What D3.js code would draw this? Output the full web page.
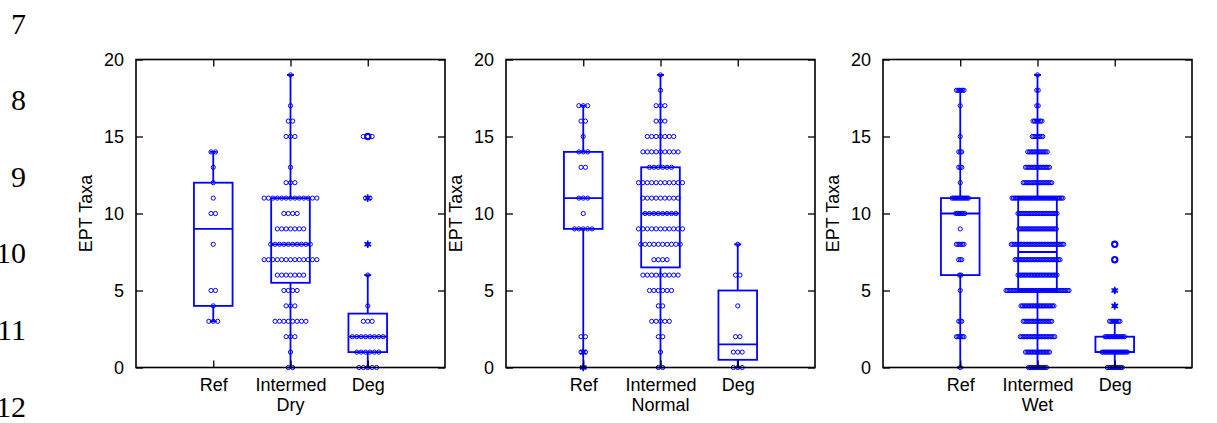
<!DOCTYPE html>
<html>
<head>
<meta charset="utf-8">
<script src="https://cdn.jsdelivr.net/npm/d3@7"></script>
<style>
  body { margin: 0; background: #fff; }
  text { font-family: 'Liberation Sans', Arial, sans-serif; }
</style>
</head>
<body>
<svg id="chart" width="1217" height="423"></svg>
<script>
const categories = ['Ref', 'Intermed', 'Deg']
const seasons = ['Dry', 'Normal', 'Wet']
const yTicks = [0, 5, 10, 15, 20]
const lineNumbers = [7, 8, 9, 10, 11, 12]

// [EPT taxa, number of sites]
const dryRef = [[14,2],[13,1],[12,1],[11,1],[10,2],[8,1],[5,2],[4,1],[3,3]]
const dryInt = [[19,1],[17,1],[16,2],[15,3],[13,1],[12,3],[11,13],[10,4],[9,7],[8,10],[7,13],[6,7],[5,4],[4,3],[3,8],[2,3],[1,1],[0,2]]
const dryDeg = [[15,3],[11,2],[8,1],[6,1],[4,1],[3,3],[2,8],[1,6],[0,5]]

const normRef = [[17,3],[16,2],[15,1],[14,3],[13,2],[11,3],[10,1],[9,5],[2,2],[1,2],[0,1]]
const normInt = [[19,1],[18,1],[17,3],[16,3],[15,7],[14,9],[13,6],[12,11],[11,9],[10,8],[9,11],[8,10],[7,4],[6,9],[5,6],[4,2],[3,5],[2,2],[1,1],[0,2]]
const normDeg = [[8,1],[6,2],[4,1],[2,2],[1,3],[0,3]]

const wetRef = [[18,6],[17,1],[15,1],[14,3],[13,3],[12,1],[11,12],[10,7],[9,1],[8,6],[7,3],[6,2],[5,1],[3,3],[2,6],[0,1]]
const wetInt = [[19,1],[18,2],[17,2],[16,7],[15,8],[14,14],[13,17],[12,20],[11,35],[10,27],[9,26],[8,36],[7,31],[6,27],[5,43],[4,23],[3,20],[2,24],[1,17],[0,13]]
const wetDeg = [[8,1],[7,1],[5,1],[4,1],[3,8],[2,14],[1,18],[0,11]]

// box stats per group: [q1, median, q3, whisker low, whisker high]
const dryBox = [[4,9,12,3,14],[5.5,8,11,0,19],[1,2,3.5,0,6]]
const normBox = [[9,11,14,0,17],[6.5,10,13,0,19],[0.5,1.5,5,0,8]]
const wetBox = [[6,10,11,0,18],[5,7.5,11,0,19],[1,1,2,0,3]]

// outside values (*) and far outside values (o)
const dryStars = [[], [], [8, 11]]
const dryFar = [[], [], [15]]
const normStars = [[1, 0], [], []]
const normFar = [[], [], []]
const wetStars = [[], [], [4, 5]]
const wetFar = [[], [], [7, 8]]

const blue = '#0000ff'
const plotTop = 59.5, plotBottom = 367.5, panelW = 309

const panels = [
  {season: seasons[0], groups: [dryRef, dryInt, dryDeg], box: dryBox, stars: dryStars, far: dryFar, left: 136, gap: 4.4},
  {season: seasons[1], groups: [normRef, normInt, normDeg], box: normBox, stars: normStars, far: normFar, left: 506, gap: 4.4},
  {season: seasons[2], groups: [wetRef, wetInt, wetDeg], box: wetBox, stars: wetStars, far: wetFar, left: 883, gap: 1.5}
]

const svg = d3.select('#chart')

// line numbers from the page margin (cut at the left edge as in the page)
svg.append('g')
  .selectAll('text')
  .data(lineNumbers)
  .join('text')
    .attr('x', 26)
    .attr('y', (d, i) => 23 + i * 76.6)
    .attr('dy', '0.35em')
    .attr('text-anchor', 'end')
    .style('font-family', "'Liberation Serif', 'Times New Roman', serif")
    .style('font-size', '30px')
    .text(d => d)

const y = d3.scaleLinear().domain([0, 20]).range([plotBottom, plotTop])

panels.forEach(p => {
  const x = d3.scaleLinear().domain([0, 4]).range([p.left, p.left + panelW])
  const g = svg.append('g')
  const bw = x(1.25) - x(1)

  // dots, spread sideways at each value
  p.groups.forEach((grp, gi) => {
    const pts = []
    grp.forEach(([v, n]) => {
      for (let i = 0; i < n; i++) pts.push({v, off: (i - (n - 1) / 2) * p.gap})
    })
    g.append('g')
      .selectAll('circle')
      .data(pts)
      .join('circle')
        .attr('cx', d => x(gi + 1) + d.off)
        .attr('cy', d => y(d.v))
        .attr('r', 2.1)
        .attr('fill', 'none')
        .attr('stroke', blue)
        .attr('stroke-width', 1)
  })

  // boxes and whiskers
  p.box.forEach(([q1, med, q3, lo, hi], gi) => {
    const cx = x(gi + 1)
    const bg = g.append('g').attr('stroke', blue).attr('fill', 'none').attr('stroke-width', 1.8)
    bg.append('rect')
      .attr('x', cx - bw).attr('width', 2 * bw)
      .attr('y', y(q3)).attr('height', y(q1) - y(q3))
    bg.append('line').attr('x1', cx - bw).attr('x2', cx + bw).attr('y1', y(med)).attr('y2', y(med))
    bg.append('line').attr('x1', cx).attr('x2', cx).attr('y1', y(q3)).attr('y2', y(hi))
    bg.append('line').attr('x1', cx).attr('x2', cx).attr('y1', y(q1)).attr('y2', y(lo))
    ;[lo, hi].forEach(v => {
      bg.append('line').attr('x1', cx - 3.5).attr('x2', cx + 3.5).attr('y1', y(v)).attr('y2', y(v))
    })
  })

  // outside values
  p.stars.forEach((vals, gi) => {
    g.append('g')
      .selectAll('path')
      .data(vals)
      .join('path')
        .attr('d', d3.symbol(d3.symbolAsterisk, 40))
        .attr('transform', d => `translate(${x(gi + 1)},${y(d)})`)
        .attr('fill', 'none')
        .attr('stroke', blue)
        .attr('stroke-width', 1.5)
  })
  p.far.forEach((vals, gi) => {
    g.append('g')
      .selectAll('circle')
      .data(vals)
      .join('circle')
        .attr('cx', x(gi + 1))
        .attr('cy', d => y(d))
        .attr('r', 2.9)
        .attr('fill', 'none')
        .attr('stroke', blue)
        .attr('stroke-width', 1.6)
  })

  // axes, ticks pointing inwards on all four sides
  const tickLen = 7
  g.append('g')
    .attr('transform', `translate(${p.left},0)`)
    .call(d3.axisLeft(y).tickValues(yTicks).tickSize(-tickLen).tickPadding(tickLen + 5))
  g.append('g')
    .attr('transform', `translate(${p.left + panelW},0)`)
    .call(d3.axisRight(y).tickValues(yTicks).tickSize(-tickLen).tickFormat(''))
  g.append('g')
    .attr('transform', `translate(0,${plotBottom})`)
    .call(d3.axisBottom(x).tickValues([1, 2, 3]).tickSize(-tickLen).tickPadding(tickLen + 4)
      .tickFormat(d => categories[d - 1]))
  g.append('g')
    .attr('transform', `translate(0,${plotTop})`)
    .call(d3.axisTop(x).tickValues([1, 2, 3]).tickSize(-tickLen).tickFormat(''))

  g.selectAll('.domain').remove()
  g.selectAll('.tick line').attr('stroke', '#000').attr('stroke-width', 1.3)
  g.selectAll('.tick text').style('font-size', '18px').attr('fill', '#000')

  g.append('rect')
    .attr('x', p.left).attr('y', plotTop)
    .attr('width', panelW).attr('height', plotBottom - plotTop)
    .attr('fill', 'none').attr('stroke', '#000').attr('stroke-width', 1.6)

  g.append('text')
    .attr('transform', `translate(${p.left - 44},${(plotTop + plotBottom) / 2}) rotate(-90)`)
    .attr('text-anchor', 'middle')
    .style('font-size', '18px')
    .text('EPT Taxa')

  g.append('text')
    .attr('x', x(2))
    .attr('y', 411)
    .attr('text-anchor', 'middle')
    .style('font-size', '18px')
    .text(p.season)
})
</script>
</body>
</html>
